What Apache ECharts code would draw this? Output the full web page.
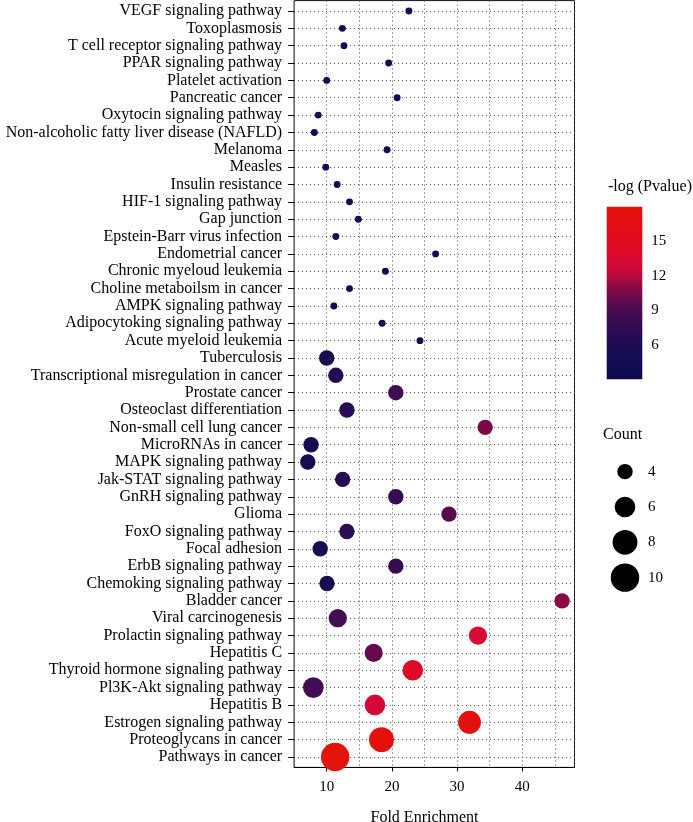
<!DOCTYPE html>
<html>
<head>
<meta charset="utf-8">
<script src="https://cdn.jsdelivr.net/npm/echarts@6/dist/echarts.min.js"></script>
<style>
  html, body { margin: 0; padding: 0; background: #ffffff; }
  #chart { width: 693px; height: 822px; }
</style>
</head>
<body>
<div id="chart"></div>
<script>
// KEGG enrichment bubble chart, rows listed top to bottom
const PATHWAYS = [
  'VEGF signaling pathway', 'Toxoplasmosis', 'T cell receptor signaling pathway', 'PPAR signaling pathway',
  'Platelet activation', 'Pancreatic cancer', 'Oxytocin signaling pathway', 'Non-alcoholic fatty liver disease (NAFLD)',
  'Melanoma', 'Measles', 'Insulin resistance', 'HIF-1 signaling pathway', 'Gap junction',
  'Epstein-Barr virus infection', 'Endometrial cancer', 'Chronic myeloud leukemia', 'Choline metaboilsm in cancer',
  'AMPK signaling pathway', 'Adipocytoking signaling pathway', 'Acute myeloid leukemia', 'Tuberculosis',
  'Transcriptional misregulation in cancer', 'Prostate cancer', 'Osteoclast differentiation',
  'Non-small cell lung cancer', 'MicroRNAs in cancer', 'MAPK signaling pathway', 'Jak-STAT signaling pathway',
  'GnRH signaling pathway', 'Glioma', 'FoxO signaling pathway', 'Focal adhesion', 'ErbB signaling pathway',
  'Chemoking signaling pathway', 'Bladder cancer', 'Viral carcinogenesis', 'Prolactin signaling pathway',
  'Hepatitis C', 'Thyroid hormone signaling pathway', 'Pl3K-Akt signaling pathway', 'Hepatitis B',
  'Estrogen signaling pathway', 'Proteoglycans in cancer', 'Pathways in cancer'
];
const FOLD_ENRICHMENT = [
  22.6, 12.4, 12.65, 19.5, 10.0, 20.8, 8.7, 8.1, 19.25, 9.85, 11.6, 13.5, 14.85, 11.4, 26.7, 19.0, 13.5,
  11.1, 18.5, 24.3, 10.0, 11.4, 20.6, 13.1, 34.3, 7.6, 7.1, 12.45, 20.6, 28.75, 13.1, 9.0, 20.6, 10.05,
  46.1, 11.7, 33.2, 17.2, 23.2, 7.95, 17.4, 31.9, 18.4, 11.3
];
const NEG_LOG_P = [
  4.5, 4.5, 4.5, 4.5, 4.5, 4.5, 4.5, 4.5, 4.5, 4.5, 4.5, 4.5, 4.5, 4.5, 4.5, 4.5, 4.5, 4.5, 4.5, 4.5,
  5.5, 6.5, 8.5, 7.0, 10.5, 5.0, 4.8, 6.5, 8.0, 9.5, 7.2, 5.3, 8.0, 5.5,
  11.0, 8.5, 13.5, 10.0, 14.5, 8.5, 13.0, 17.0, 17.5, 18.0
];
const GENE_COUNT = [
  2, 2, 2, 2, 2, 2, 2, 2, 2, 2, 2, 2, 2, 2, 2, 2, 2, 2, 2, 2,
  4, 4, 4, 4, 4, 4, 4, 4, 4, 4, 4, 4, 4, 4,
  4, 5, 5, 5, 6, 6, 6, 7, 8, 10
];
const COUNT_BREAKS = [4, 6, 8, 10];
const COLOR_MIN = 3;
const COLOR_MAX = 18;

// navy -> red ramp, one colour per unit of -log(P) from 3 to 18
const RAMP = [
  '#0c0a52', '#110b52', '#160c52', '#1d0c53', '#2a0c52', '#380c51', '#4a0b50', '#650a4c',
  '#8a0a46', '#b80a3e', '#d30a36', '#db0a2a', '#df0b20', '#e10d16', '#e2100e', '#e3140a'
];
const FONT = 'Liberation Serif';
const INK = '#000000';
const DOT_LINE = '#505050';
const DOTS = [1, 3];

// ggplot-like area scaling
function sizeOf(count) {
  return Math.sqrt(95 * (count - 1.5));
}

const PLOT_LEFT = 294.1;
const PLOT_WIDTH = 280.4;
const FRAME_TOP = 0.6;
const FRAME_BOTTOM = 767.4;

const points = PATHWAYS.map((name, i) => [FOLD_ENRICHMENT[i], name, NEG_LOG_P[i], GENE_COUNT[i]]);

const gradient = new echarts.graphic.LinearGradient(0, 0, 0, 1,
  RAMP.map((color, i) => ({ offset: 1 - i / (RAMP.length - 1), color }))
);

const chart = echarts.init(document.getElementById('chart'), null, { renderer: 'canvas' });

chart.setOption({
  backgroundColor: '#ffffff',
  animation: false,
  textStyle: { fontFamily: FONT },
  title: [
    { text: '-log (Pvalue)', left: 608, top: 179, padding: 0,
      textStyle: { fontFamily: FONT, fontSize: 16, fontWeight: 'normal', color: INK } },
    { text: 'Count', left: 603, top: 427, padding: 0,
      textStyle: { fontFamily: FONT, fontSize: 16, fontWeight: 'normal', color: INK } }
  ],
  grid: [
    // frame + vertical dotted lines
    { left: PLOT_LEFT, top: FRAME_TOP, width: PLOT_WIDTH, height: FRAME_BOTTOM - FRAME_TOP, outerBoundsMode: 'none',
      show: true, borderColor: '#111111', borderWidth: 1, backgroundColor: 'transparent' },
    // row grid, first and last row centres
    { left: PLOT_LEFT, top: 11, width: PLOT_WIDTH, height: 746, outerBoundsMode: 'none' },
    // x tick marks / labels from 10 to 40
    { left: 326.7, top: FRAME_TOP, width: 195.6, height: FRAME_BOTTOM - FRAME_TOP, outerBoundsMode: 'none' },
    // colour bar
    { left: 606.7, top: 206.7, width: 35.6, height: 172.6, outerBoundsMode: 'none' },
    // size legend
    { left: 607, top: 454, width: 36, height: 141.3, outerBoundsMode: 'none' }
  ],
  xAxis: [
    { gridIndex: 0, type: 'value', min: 5, max: 48, interval: 5,
      axisLine: { show: true, lineStyle: { color: INK, width: 1 } },
      axisTick: { show: false }, axisLabel: { show: false },
      splitLine: { show: true, lineStyle: { color: DOT_LINE, width: 1, type: DOTS } } },
    { gridIndex: 1, type: 'value', min: 5, max: 48, show: false },
    { gridIndex: 2, type: 'value', min: 10, max: 40, interval: 10,
      name: 'Fold Enrichment', nameLocation: 'middle', nameGap: 42,
      nameTextStyle: { fontFamily: FONT, fontSize: 16, color: INK },
      axisLine: { show: false },
      axisTick: { show: true, length: 4, lineStyle: { color: INK } },
      axisLabel: { margin: 12, fontFamily: FONT, fontSize: 15, color: INK },
      splitLine: { show: false } },
    { gridIndex: 3, type: 'category', data: ['bar'], show: false },
    { gridIndex: 4, type: 'category', data: ['key'], show: false }
  ],
  yAxis: [
    { gridIndex: 0, type: 'value', show: false, min: 0, max: 1, splitLine: { show: false } },
    { gridIndex: 1, type: 'category', data: PATHWAYS, inverse: true, boundaryGap: false,
      axisLine: { show: false },
      axisTick: { show: true, length: 6, lineStyle: { color: INK } },
      axisLabel: { margin: 12, fontFamily: FONT, fontSize: 16, color: INK, interval: 0 },
      splitLine: { show: true, lineStyle: { color: DOT_LINE, width: 1, type: DOTS } } },
    { gridIndex: 2, type: 'value', show: false, min: 0, max: 1, splitLine: { show: false } },
    { gridIndex: 3, type: 'value', position: 'right', min: COLOR_MIN, max: COLOR_MAX, interval: 3,
      axisLine: { show: false },
      axisTick: { show: true, inside: true, length: 7, lineStyle: { color: 'rgba(255,255,255,0.5)' } },
      axisLabel: { margin: 9, fontFamily: FONT, fontSize: 15, color: INK,
        formatter: (v) => (v > COLOR_MIN && v < COLOR_MAX ? String(v) : '') },
      splitLine: { show: false } },
    { gridIndex: 3, type: 'value', position: 'left', min: COLOR_MIN, max: COLOR_MAX, interval: 3,
      axisLine: { show: false },
      axisTick: { show: true, inside: true, length: 7, lineStyle: { color: 'rgba(255,255,255,0.5)' } },
      axisLabel: { show: false }, splitLine: { show: false } },
    { gridIndex: 4, type: 'category', data: COUNT_BREAKS.map(String), inverse: true, position: 'right',
      axisLine: { show: false }, axisTick: { show: false },
      axisLabel: { margin: 5, fontFamily: FONT, fontSize: 15, color: INK },
      splitLine: { show: false } }
  ],
  visualMap: [
    { type: 'continuous', show: false, seriesIndex: 0, dimension: 2,
      min: COLOR_MIN, max: COLOR_MAX, inRange: { color: RAMP } }
  ],
  series: [
    {
      name: 'pathways',
      type: 'scatter',
      xAxisIndex: 1,
      yAxisIndex: 1,
      clip: false,
      data: points,
      encode: { x: 0, y: 1 },
      symbolSize: (val) => sizeOf(val[3]),
      itemStyle: { opacity: 1 },
      z: 5
    },
    // colour bar: transparent base up to min, gradient span on top
    {
      type: 'bar', xAxisIndex: 3, yAxisIndex: 3, stack: 'cb', barWidth: '100%',
      data: [COLOR_MIN], itemStyle: { color: 'transparent' }, silent: true
    },
    {
      type: 'bar', xAxisIndex: 3, yAxisIndex: 3, stack: 'cb', barWidth: '100%',
      data: [COLOR_MAX - COLOR_MIN], itemStyle: { color: gradient }, silent: true, z: 1
    },
    {
      type: 'scatter', xAxisIndex: 4, yAxisIndex: 5, clip: false,
      data: COUNT_BREAKS.map((c) => ['key', String(c), c]),
      symbolSize: (val) => sizeOf(val[2]),
      itemStyle: { color: INK, opacity: 1 }
    }
  ]
});
</script>
</body>
</html>
